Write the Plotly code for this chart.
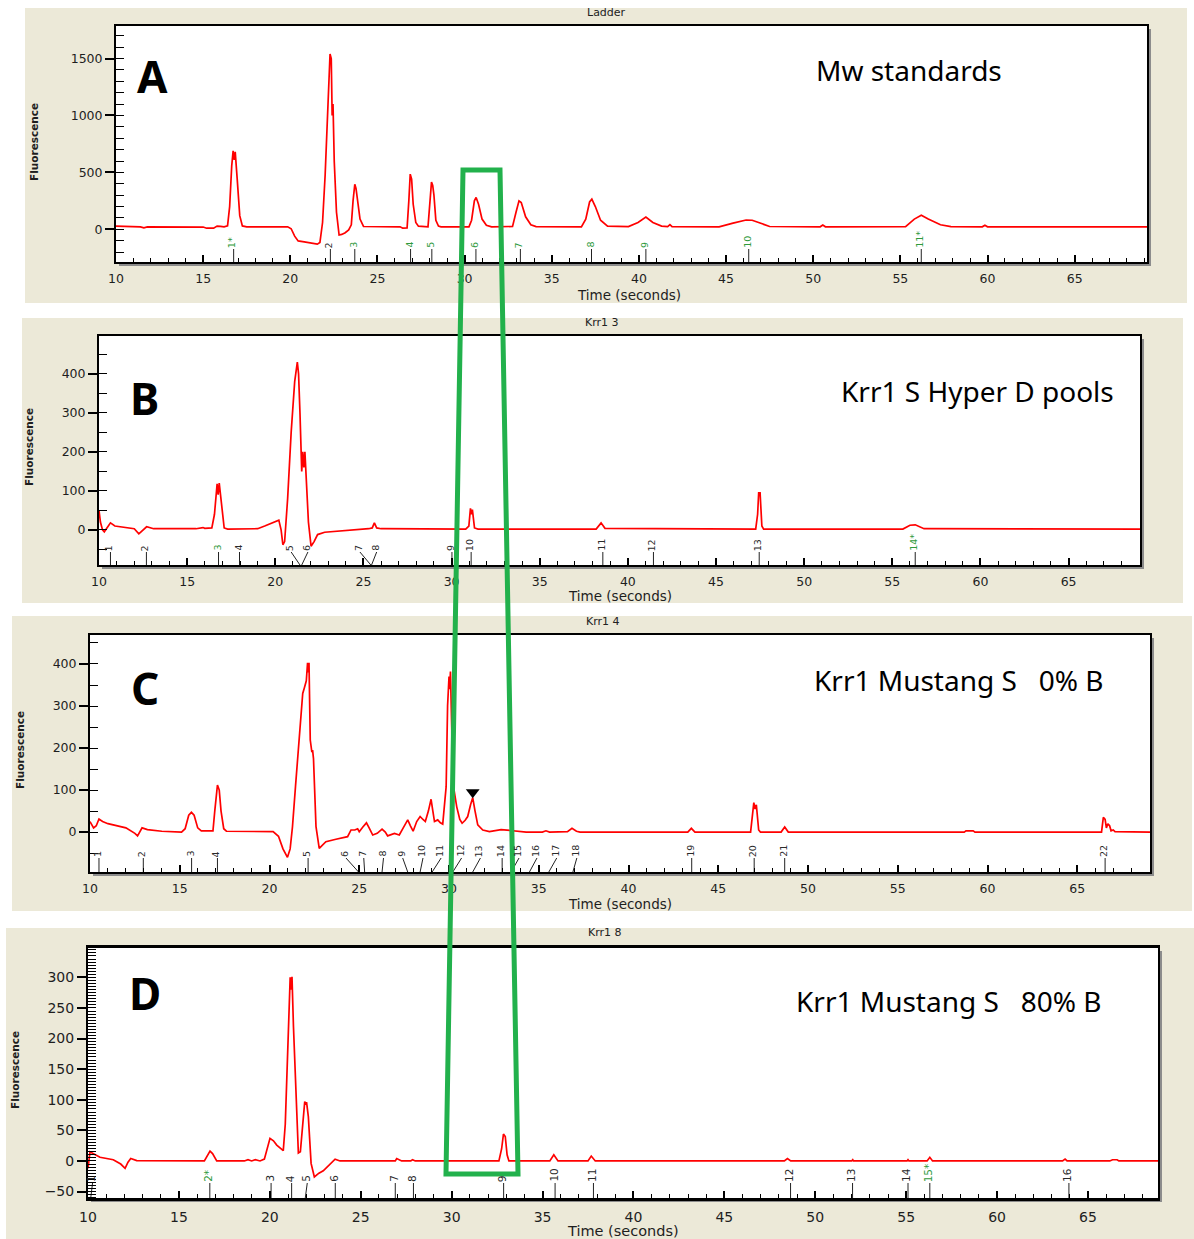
import plotly.graph_objects as go

W, H = 1194, 1239

# ---------------- data ----------------
A_time = [10.0, 10.5, 11.4, 11.6, 11.8, 15.0, 15.2, 15.6, 15.8, 16.0, 16.2, 16.4, 16.52, 16.64, 16.72, 16.78, 16.84, 16.95, 17.1, 17.25, 17.5,
          19.85, 20.05, 20.25, 20.45, 20.8, 21.2, 21.55, 21.7, 21.85, 22.0, 22.15, 22.28, 22.35, 22.4, 22.45, 22.52, 22.65, 22.8, 22.95, 23.15, 23.35,
          23.5, 23.6, 23.7, 23.77, 23.85, 24.0, 24.2, 26.3, 26.45, 26.7, 26.8, 26.88, 26.96, 27.05, 27.2, 27.35, 27.9, 28.0, 28.1, 28.17, 28.24, 28.35,
          28.5, 28.65, 30.25, 30.4, 30.56, 30.66, 30.8, 31.0, 31.25, 31.55, 32.75, 32.95, 33.12, 33.25, 33.5, 33.8, 34.1, 36.7, 36.95, 37.17, 37.3,
          37.5, 37.8, 38.2, 39.4, 39.95, 40.4, 40.8, 41.3, 41.65, 41.78, 41.9, 44.6, 45.4, 46.15, 46.5, 47.0, 47.5, 50.4, 50.55, 50.7, 55.3, 55.8,
          56.2, 56.6, 57.3, 57.9, 59.7, 59.85, 60.0, 69.15]
A_signal = [28, 24, 22, 13, 21, 20, 10, 10, 28, 26, 22, 30, 200, 560, 690, 610, 680, 450, 120, 30, 22,
            22, 5, -60, -102, -110, -118, -130, -115, 60, 480, 1150, 1540, 1500, 1000, 1100, 600, 150, -50, -45, -30, -5,
            40, 250, 395, 360, 280, 90, 25, 22, 10, 12, 250, 485, 440, 220, 60, 28, 22, 200, 415, 385, 300, 80,
            28, 22, 22, 80, 250, 280, 220, 90, 35, 22, 25, 150, 250, 235, 110, 40, 24, 22, 90, 240, 265,
            200, 80, 28, 24, 60, 108, 60, 28, 24, 42, 24, 22, 55, 82, 80, 50, 25, 22, 38, 22, 24, 90,
            123, 90, 40, 24, 22, 36, 22, 22]

B_time = [10.0, 10.08, 10.2, 10.3, 10.45, 10.65, 10.9, 11.5, 12.0, 12.26, 12.5, 12.7, 13.1, 15.5, 15.9, 16.0, 16.4, 16.55, 16.7, 16.76,
          16.82, 16.95, 17.1, 17.3, 19.0, 19.4, 19.9, 20.2, 20.33, 20.43, 20.53, 20.7, 20.9, 21.1, 21.25, 21.32, 21.4, 21.5, 21.56, 21.62,
          21.68, 21.76, 21.88, 22.03, 22.2, 22.4, 22.8, 25.3, 25.5, 25.62, 25.75, 26.0, 30.8, 30.98, 31.07, 31.12, 31.18, 31.3, 31.5, 38.2,
          38.48, 38.7, 47.25, 47.36, 47.42, 47.5, 47.6, 47.7, 55.6, 56.0, 56.3, 56.8, 69.05]
B_signal = [50, 20, 0, -5, 5, 18, 10, 6, 3, -10, 0, 8, 3, 3, 6, 4, 5, 40, 118, 90,
            120, 70, 5, 2, 3, 10, 20, 25, 0, -38, -30, 80, 250, 380, 430, 400, 300, 150, 200, 160,
            200, 120, 20, -42, -30, -12, -6, 3, 5, 18, 5, 3, 2, 10, 55, 40, 52, 5, 2, 2,
            18, 4, 2, 40, 95, 95, 10, 2, 2, 12, 13, 3, 2]

C_time = [10.0, 10.2, 10.35, 10.5, 10.7, 11.0, 12.0, 12.5, 12.65, 12.9, 13.2, 14.0, 15.1, 15.3, 15.5, 15.65, 15.8, 16.0, 16.2, 16.85,
          16.95, 17.1, 17.2, 17.3, 17.45, 17.6, 20.2, 20.5, 20.75, 21.0, 21.15, 21.28, 21.45, 21.66, 21.85, 21.94, 22.05, 22.12, 22.16, 22.2,
          22.27, 22.36, 22.4, 22.45, 22.59, 22.77, 23.0, 23.14, 23.7, 24.35, 24.54, 24.75, 24.91, 25.0, 25.2, 25.4, 25.55, 25.75, 26.0, 26.27,
          26.45, 26.58, 26.96, 27.23, 27.45, 27.7, 27.85, 28.0, 28.2, 28.39, 28.55, 28.68, 28.85, 29.0, 29.1, 29.19, 29.37, 29.52, 29.65, 29.75,
          29.84, 29.92, 30.0, 30.04, 30.08, 30.15, 30.2, 30.25, 30.43, 30.6, 30.73, 30.9, 31.04, 31.2, 31.32, 31.45, 31.6, 31.88, 32.25, 32.9,
          33.1, 33.37, 34.3, 35.2, 35.4, 35.6, 36.6, 36.85, 37.1, 37.3, 43.3, 43.5, 43.7, 46.8, 46.9, 46.98, 47.05, 47.12, 47.25, 47.35,
          48.5, 48.7, 48.9, 58.7, 58.8, 59.2, 59.3, 66.35, 66.45, 66.55, 66.62, 66.7, 66.8, 66.88, 67.0, 67.1, 69.05]
C_signal = [25, 10, 15, 31, 25, 20, 10, -3, -9, 10, 6, 2, 0, 8, 40, 47, 40, 10, 3, 3,
            50, 112, 100, 50, 8, 2, 1, -10, -40, -60, -40, 13, 110, 219, 330, 343, 360, 403, 380, 403,
            219, 190, 195, 175, 13, -39, -30, -23, -17, -11, 5, 5, 8, 1, 12, 22, 10, -7, -3, 7,
            0, -9, -3, -7, 10, 29, 15, 2, 25, 37, 30, 25, 50, 78, 50, 25, 29, 22, 19, 60,
            108, 300, 370, 340, 382, 250, 110, 108, 60, 30, 21, 28, 37, 65, 82, 50, 17, 5, 1, 6,
            5, 3, 0, 0, 3, 0, 1, 9, 2, 0, 0, 9, 0, 0, 40, 70, 55, 65, 5, 0,
            0, 12, 0, 0, 3, 3, 0, 0, 35, 30, 10, 20, 15, 3, 5, 1, 0]

D_time = [10.0, 10.05, 10.11, 10.3, 10.66, 11.39, 11.8, 12.04, 12.2, 12.35, 12.68, 16.4, 16.55, 16.71, 16.85, 17.08, 18.6, 18.8, 19.0, 19.2,
          19.46, 19.7, 20.01, 20.2, 20.38, 20.74, 20.85, 20.93, 21.05, 21.12, 21.17, 21.22, 21.3, 21.39, 21.5, 21.57, 21.68, 21.81, 21.92, 21.97,
          22.02, 22.12, 22.27, 22.45, 22.7, 22.94, 23.4, 23.59, 23.86, 26.9, 26.98, 27.25, 27.75, 27.85, 28.0, 32.6, 32.75, 32.85, 32.95, 33.05,
          33.15, 35.4, 35.62, 35.85, 37.5, 37.68, 37.9, 48.3, 48.47, 48.65, 52.0, 52.06, 52.1, 55.05, 55.1, 55.15, 56.15, 56.3, 56.45, 63.6,
          63.74, 63.85, 66.2, 66.35, 66.6, 66.7, 68.85]
D_signal = [-12, 0, 15, 12, 6, 2, -5, -12, -2, 4, 0.5, 0, 8, 16, 12, 0, 0, 2, 0, 2,
            0, 3, 37, 33, 26, 17, 60, 143, 260, 300, 280, 301, 220, 143, 40, 13, 15, 56, 97, 92,
            96, 72, -4, -26, -20, -16, -2, 3, 0, 0, 4, 0, 0, 2, 0, 0, 20, 44, 40, 10,
            0, 0, 10, 0, 0, 8, 0, 0, 4, 0, 0, 2, 0, 0, 2, 0, 0, 6, 0, 0,
            3, 0, 0, 2, 2, 0, 0]

# peak markers: position on axis, position of line top / label, label text, colour code
A_peak_pos = [16.75, 22.3, 23.7, 26.9, 28.12, 30.65, 33.2, 37.28, 40.4, 46.3, 56.2]
A_peak_top = [16.75, 22.3, 23.7, 26.9, 28.12, 30.65, 33.2, 37.28, 40.4, 46.3, 56.2]
A_peak_labels = ["1*", "2", "3", "4", "5", "6", "7", "8", "9", "10", "11*"]
A_peak_colors = ["g", "k", "g", "g", "g", "g", "g", "g", "g", "g", "g"]

B_peak_pos = [10.65, 12.69, 16.78, 17.97, 21.4, 21.5, 25.42, 25.46, 30.02, 31.11, 38.58, 41.45, 47.45, 56.3]
B_peak_top = [10.65, 12.69, 16.78, 17.97, 20.9, 21.85, 24.8, 25.75, 30.02, 31.11, 38.58, 41.45, 47.45, 56.3]
B_peak_labels = ["1", "2", "3", "4", "5", "6", "7", "8", "9", "10", "11", "12", "13", "14*"]
B_peak_colors = ["k", "k", "g", "k", "k", "k", "k", "k", "k", "k", "k", "k", "k", "g"]

C_peak_pos = [10.5, 12.97, 15.66, 17.1, 22.15, 24.96, 25.3, 26.27, 27.7, 28.39, 29.06, 30.21, 31.32, 32.96, 33.46, 34.48, 35.56, 36.9,
              43.52, 47.0, 48.7, 66.55]
C_peak_top = [10.5, 12.97, 15.66, 17.1, 22.15, 24.26, 25.25, 26.35, 27.42, 28.55, 29.56, 30.7, 31.75, 32.96, 33.9, 34.9, 36.0, 37.12,
              43.52, 47.0, 48.7, 66.55]
C_peak_labels = [str(i) for i in range(1, 23)]
C_peak_colors = ["k"] * 22

D_peak_pos = [10.15, 16.7, 20.07, 21.2, 21.95, 23.6, 26.9, 27.9, 32.86, 35.69, 37.8, 48.64, 52.05, 55.1, 56.3, 63.95]
D_peak_top = [10.25, 16.7, 20.07, 21.2, 22.06, 23.6, 26.9, 27.9, 32.86, 35.69, 37.8, 48.64, 52.05, 55.1, 56.3, 63.95]
D_peak_labels = ["1", "2*", "3", "4", "5", "6", "7", "8", "9", "10", "11", "12", "13", "14", "15*", "16"]
D_peak_colors = ["k", "g", "k", "k", "k", "k", "k", "k", "k", "k", "k", "k", "k", "k", "g", "k"]

C_marker_time = [31.32]
C_marker_value = [95]

panel_titles = ["Ladder", "Krr1 3", "Krr1 4", "Krr1 8"]
panel_letters = ["A", "B", "C", "D"]
panel_descriptions = ["Mw standards", "Krr1 S Hyper D pools",
                      "Krr1 Mustang S\u00a0\u00a0 0% B", "Krr1 Mustang S\u00a0\u00a0 80% B"]

# ---------------- layout geometry (pixels) ----------------
panels = [
    dict(t=A_time, s=A_signal, pp=A_peak_pos, pt=A_peak_top, pl=A_peak_labels, pc=A_peak_colors,
         bg=(25, 8, 1187, 303), plot=(116, 26, 1147, 262), xr=[10, 69.15], yr=[-287, 1786],
         dtick=500, mdtick=100, tl=13, title_xy=(606, 13), letter_xy=(152, 76), desc_xy=(909, 70),
         xt_xy=(629, 295), yt_xy=(34, 142), tf=12.5, xtf=13.5),
    dict(t=B_time, s=B_signal, pp=B_peak_pos, pt=B_peak_top, pl=B_peak_labels, pc=B_peak_colors,
         bg=(22, 318, 1183, 603), plot=(99, 336, 1140, 565), xr=[10, 69.05], yr=[-90, 497],
         dtick=100, mdtick=50, tl=13, title_xy=(602, 322), letter_xy=(144, 398), desc_xy=(977, 391),
         xt_xy=(620, 596), yt_xy=(29, 447), tf=12.5, xtf=13.5),
    dict(t=C_time, s=C_signal, pp=C_peak_pos, pt=C_peak_top, pl=C_peak_labels, pc=C_peak_colors,
         bg=(12, 616, 1192, 911), plot=(90, 635, 1150, 872), xr=[10, 69.05], yr=[-95, 469],
         dtick=100, mdtick=50, tl=14, title_xy=(603, 621), letter_xy=(145, 688), desc_xy=(958, 680),
         xt_xy=(620, 904), yt_xy=(20, 750), tf=12.5, xtf=13.5),
    dict(t=D_time, s=D_signal, pp=D_peak_pos, pt=D_peak_top, pl=D_peak_labels, pc=D_peak_colors,
         bg=(6, 928, 1194, 1239), plot=(88, 948, 1158, 1198), xr=[10, 68.85], yr=[-60.5, 348],
         dtick=50, mdtick=5, tl=15, title_xy=(605, 932), letter_xy=(145, 993), desc_xy=(948, 1001),
         xt_xy=(623, 1231), yt_xy=(15, 1070), tf=14, xtf=14.5),
]

GREEN_TXT = "#2f9a3c"
RED = "#ff0000"
BEIGE = "#ece9d8"


def fx(p):
    return p / W


def fy(p):
    return 1 - p / H


fig = go.Figure()
shapes = []
annotations = []
layout_axes = {}

for i, p in enumerate(panels):
    n = i + 1
    xa = "x" if n == 1 else f"x{n}"
    ya = "y" if n == 1 else f"y{n}"
    x0, y0, x1, y1 = p["plot"]
    bx0, by0, bx1, by1 = p["bg"]
    # background panel, shadow, white plot area
    shapes.append(dict(type="rect", xref="paper", yref="paper", x0=fx(bx0), x1=fx(bx1), y0=fy(by1), y1=fy(by0),
                       fillcolor=BEIGE, line=dict(width=0), layer="below"))
    shapes.append(dict(type="rect", xref="paper", yref="paper", x0=fx(x0 + 3), x1=fx(x1 + 4), y0=fy(y1 + 4), y1=fy(y0 + 3),
                       fillcolor="#8c8c8c", line=dict(width=0), layer="below"))
    shapes.append(dict(type="rect", xref="paper", yref="paper", x0=fx(x0), x1=fx(x1), y0=fy(y1), y1=fy(y0),
                       fillcolor="white", line=dict(width=0), layer="below"))

    layout_axes["xaxis" if n == 1 else f"xaxis{n}"] = dict(
        domain=[fx(x0), fx(x1)], anchor=ya, range=p["xr"], showgrid=False, zeroline=False,
        showline=True, linecolor="black", linewidth=2 if n < 4 else 2.5, mirror=True,
        ticks="inside", ticklen=7, tickwidth=1.6, tickcolor="black", tick0=10, dtick=5,
        minor=dict(dtick=1, tick0=10, ticks="inside", ticklen=4, tickwidth=1.3, tickcolor="black"),
        tickfont=dict(family="DejaVu Sans", size=p["tf"], color="#1e1e1e"), ticklabelstandoff=4,
        automargin=False, fixedrange=True)
    layout_axes["yaxis" if n == 1 else f"yaxis{n}"] = dict(
        domain=[fy(y1), fy(y0)], anchor=xa, range=p["yr"], showgrid=False, zeroline=False,
        showline=True, linecolor="black", linewidth=2, mirror=True,
        ticks="outside", ticklen=9, tickwidth=1.6, tickcolor="black", tick0=0, dtick=p["dtick"],
        minor=dict(dtick=p["mdtick"], tick0=0, ticks="inside", ticklen=8, tickwidth=1.3, tickcolor="black"),
        tickfont=dict(family="DejaVu Sans", size=p["tf"], color="#1e1e1e"),
        automargin=False, fixedrange=True)

    # chromatogram trace
    fig.add_trace(go.Scatter(x=p["t"], y=p["s"], mode="lines", xaxis=xa, yaxis=ya,
                             line=dict(color=RED, width=1.7), hoverinfo="skip"))

    # peak marker lines
    ybot = p["yr"][0]
    h = p["tl"] * (p["yr"][1] - p["yr"][0]) / (y1 - y0)
    lx, ly = [], []
    for a, b in zip(p["pp"], p["pt"]):
        lx += [a, b, None]
        ly += [ybot, ybot + h, None]
    fig.add_trace(go.Scatter(x=lx, y=ly, mode="lines", xaxis=xa, yaxis=ya,
                             line=dict(color="#222222", width=1), hoverinfo="skip"))
    for b, lab, c in zip(p["pt"], p["pl"], p["pc"]):
        annotations.append(dict(x=b, y=ybot + h, xref=xa, yref=ya, text=lab, showarrow=False,
                                textangle=-90, xanchor="center", yanchor="bottom", xshift=-2, yshift=-1,
                                font=dict(family="DejaVu Sans", size=9.5 if n < 4 else 10.5,
                                          color=GREEN_TXT if c == "g" else "#2a2a2a")))

    # texts
    annotations.append(dict(x=fx(p["title_xy"][0]), y=fy(p["title_xy"][1]), xref="paper", yref="paper",
                            text=panel_titles[i], showarrow=False, xanchor="center", yanchor="middle",
                            font=dict(family="DejaVu Sans", size=11, color="#222222")))
    annotations.append(dict(x=fx(p["letter_xy"][0]), y=fy(p["letter_xy"][1]), xref="paper", yref="paper",
                            text="<b>" + panel_letters[i] + "</b>", showarrow=False, xanchor="center", yanchor="middle",
                            font=dict(family="Noto Sans", size=44, color="black")))
    annotations.append(dict(x=fx(p["desc_xy"][0]), y=fy(p["desc_xy"][1]), xref="paper", yref="paper",
                            text=panel_descriptions[i], showarrow=False, xanchor="center", yanchor="middle",
                            font=dict(family="Noto Sans", size=28, color="black")))
    annotations.append(dict(x=fx(p["xt_xy"][0]), y=fy(p["xt_xy"][1]), xref="paper", yref="paper",
                            text="Time (seconds)", showarrow=False, xanchor="center", yanchor="middle",
                            font=dict(family="DejaVu Sans", size=p["xtf"], color="#1e1e1e")))
    annotations.append(dict(x=fx(p["yt_xy"][0]), y=fy(p["yt_xy"][1]), xref="paper", yref="paper",
                            text="<b>Fluorescence</b>", showarrow=False, xanchor="center", yanchor="middle",
                            textangle=-90, font=dict(family="DejaVu Sans", size=10.5, color="#1e1e1e")))

# black triangle marker in panel C
fig.add_trace(go.Scatter(x=C_marker_time, y=C_marker_value, mode="markers", xaxis="x3", yaxis="y3",
                         marker=dict(symbol="triangle-down", size=12, color="black"), hoverinfo="skip"))

# green highlight box spanning the panels
gx = [463, 500, 518, 446]
gy = [170, 170, 1174, 1174]
path = "M {:.5f},{:.5f} L {:.5f},{:.5f} L {:.5f},{:.5f} L {:.5f},{:.5f} Z".format(
    fx(gx[0]), fy(gy[0]), fx(gx[1]), fy(gy[1]), fx(gx[2]), fy(gy[2]), fx(gx[3]), fy(gy[3]))
shapes.append(dict(type="path", xref="paper", yref="paper", path=path,
                   line=dict(color="#22b14c", width=5), layer="above"))

fig.update_layout(
    width=W, height=H, margin=dict(l=0, r=0, t=0, b=0, pad=0), autosize=False,
    paper_bgcolor="white", plot_bgcolor="rgba(0,0,0,0)",
    showlegend=False, hovermode=False,
    shapes=shapes, annotations=annotations,
    **layout_axes,
)

fig.write_html("out.html")
